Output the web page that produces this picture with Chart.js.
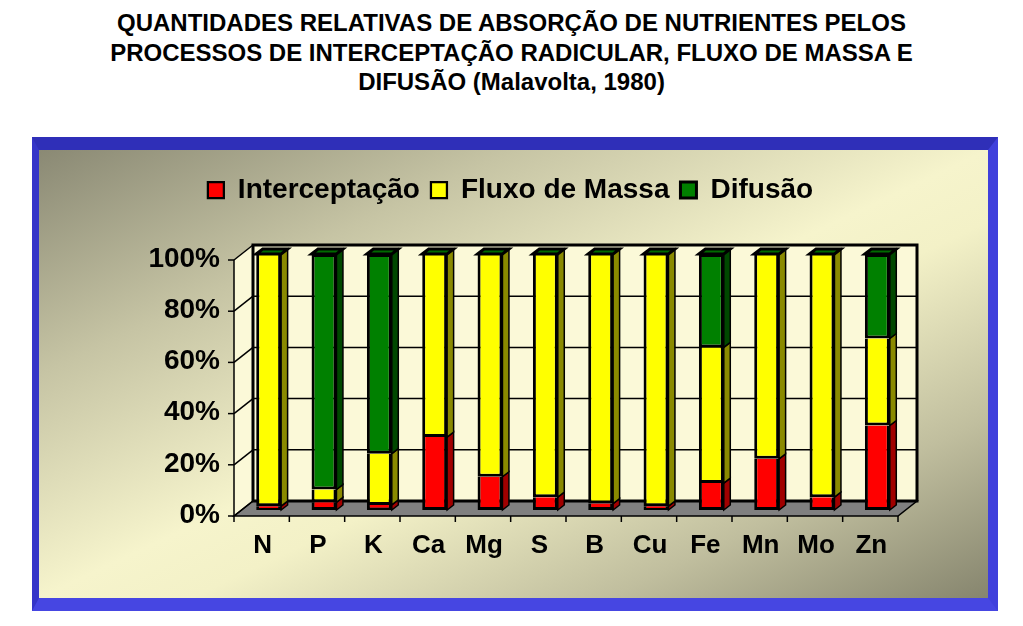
<!DOCTYPE html>
<html>
<head>
<meta charset="utf-8">
<script src="https://cdn.jsdelivr.net/npm/chart.js@4/dist/chart.umd.min.js"></script>
<style>
  body { margin: 0; background: #fff; width: 1023px; height: 626px; overflow: hidden; font-family: 'Liberation Sans', Arial, sans-serif; }
  #title { position: absolute; left: 0; top: 8px; width: 1023px; text-align: center; font-weight: bold; font-size: 24px; line-height: 29.5px; color: #000; }
  #box { position: absolute; left: 32px; top: 137px; width: 966px; height: 474px; box-sizing: border-box;
         border-style: solid; border-width: 13px 10px 13px 7px; border-color: #2f2fb8 #4040dc #4646e2 #3535c8;
         background: linear-gradient(to bottom right, #8a8974 0%, #c6c4a4 25%, #f6f4cc 50%, #f3f1c7 58%, #c0be9e 80%, #86856e 100%); }
  #chart { display: block; }
</style>
</head>
<body>
<div id="title">QUANTIDADES RELATIVAS DE ABSORÇÃO DE NUTRIENTES PELOS<br>PROCESSOS DE INTERCEPTAÇÃO RADICULAR, FLUXO DE MASSA E<br>DIFUSÃO (Malavolta, 1980)</div>
<div id="box"><canvas id="chart" width="949" height="448"></canvas></div>
<script>
const categories = ['N', 'P', 'K', 'Ca', 'Mg', 'S', 'B', 'Cu', 'Fe', 'Mn', 'Mo', 'Zn'];
const interceptacao = [1.5, 3, 2, 28.5, 13, 5, 2.5, 1.5, 10.5, 20, 5, 33];
const fluxoMassa = [98.5, 5, 20, 71.5, 87, 95, 97.5, 98.5, 53, 80, 95, 34];
const difusao = [0, 92, 78, 0, 0, 0, 0, 0, 36.5, 0, 0, 33];
const yTicks = [0, 20, 40, 60, 80, 100];

const FONT = "'Liberation Sans', Arial, sans-serif";
const FRONT = { x: -7, y: 6 };      // front plane (axis) relative to bar faces
const BACK = { x: 12, y: -9 };      // back wall relative to bar faces
const DEPTH = { x: 6.5, y: -5 };    // bar depth
const sideColors = ['#a00000', '#8a8a00', '#004800'];

function poly(ctx, pts, fill, stroke, lw) {
    ctx.beginPath();
    ctx.moveTo(pts[0][0], pts[0][1]);
    for (let i = 1; i < pts.length; i++) ctx.lineTo(pts[i][0], pts[i][1]);
    ctx.closePath();
    if (fill) { ctx.fillStyle = fill; ctx.fill(); }
    if (stroke) { ctx.strokeStyle = stroke; ctx.lineWidth = lw; ctx.stroke(); }
}

function line(ctx, x1, y1, x2, y2) {
    ctx.beginPath();
    ctx.moveTo(x1, y1);
    ctx.lineTo(x2, y2);
    ctx.stroke();
}

const chart3d = {
    id: 'chart3d',
    beforeInit(chart) {
        // extra room between legend and plot
        const fit = chart.legend.fit;
        chart.legend.fit = function () {
            fit.bind(chart.legend)();
            this.height += 40;
        };
    },
    beforeDatasetsDraw(chart) {
        const { ctx, chartArea: a, scales: { x, y } } = chart;
        const L = a.left, R = a.right, T = a.top, B = a.bottom;
        const wall = '#fbf9d8';
        ctx.save();
        // back wall + left wall
        ctx.fillStyle = wall;
        ctx.fillRect(L + BACK.x, T + BACK.y, R - L, B - T);
        poly(ctx, [[L + FRONT.x, T + FRONT.y], [L + BACK.x, T + BACK.y], [L + BACK.x, B + BACK.y], [L + FRONT.x, B + FRONT.y]], wall, null);
        // floor
        poly(ctx, [[L + FRONT.x, B + FRONT.y], [R + FRONT.x, B + FRONT.y], [R + BACK.x, B + BACK.y], [L + BACK.x, B + BACK.y]], '#808080', '#000', 1.5);
        // grid
        ctx.strokeStyle = '#000';
        ctx.lineWidth = 1.5;
        yTicks.forEach(v => {
            const py = y.getPixelForValue(v);
            line(ctx, L + FRONT.x, py + FRONT.y, L + BACK.x, py + BACK.y);
            if (v > 0 && v < 100) line(ctx, L + BACK.x, py + BACK.y, R + BACK.x, py + BACK.y);
            line(ctx, L + FRONT.x - 6, py + FRONT.y, L + FRONT.x, py + FRONT.y);
        });
        ctx.lineWidth = 3;
        ctx.strokeRect(L + BACK.x, T + BACK.y, R - L, B - T);
        // front axes
        ctx.lineWidth = 1.5;
        line(ctx, L + FRONT.x, T + FRONT.y, L + FRONT.x, B + FRONT.y);
        const step = x.getPixelForValue(1) - x.getPixelForValue(0);
        for (let i = 0; i <= categories.length; i++) {
            const px = x.getPixelForValue(i) - step / 2 + FRONT.x;
            line(ctx, px, B + FRONT.y, px, B + FRONT.y + 6);
        }
        ctx.restore();
    },
    afterDatasetsDraw(chart) {
        const ctx = chart.ctx;
        const last = chart.data.datasets.length - 1;
        ctx.save();
        chart.data.datasets.forEach((ds, di) => {
            chart.getDatasetMeta(di).data.forEach(bar => {
                const { x: bx, y: top, base, width } = bar.getProps(['x', 'y', 'base', 'width'], true);
                const xl = bx - width / 2, xr = bx + width / 2;
                if (base - top > 0.5) {
                    poly(ctx, [[xr, top], [xr + DEPTH.x, top + DEPTH.y], [xr + DEPTH.x, base + DEPTH.y], [xr, base]], sideColors[di], '#000', 1.5);
                }
                if (di === last) {
                    poly(ctx, [[xl, top], [xl + DEPTH.x, top + DEPTH.y], [xr + DEPTH.x, top + DEPTH.y], [xr, top]], '#006a00', '#000', 3);
                }
            });
        });
        ctx.restore();
    }
};

const midBorder = { left: 3, right: 3, top: 0, bottom: 3 };

new Chart(document.getElementById('chart'), {
    type: 'bar',
    data: {
        labels: categories,
        datasets: [
            { label: 'Interceptação', data: interceptacao, backgroundColor: '#ff0000', borderColor: '#000', borderWidth: midBorder, borderSkipped: false },
            { label: 'Fluxo de Massa', data: fluxoMassa, backgroundColor: '#ffff00', borderColor: '#000', borderWidth: midBorder, borderSkipped: false },
            { label: 'Difusão', data: difusao, backgroundColor: '#008000', borderColor: '#000', borderWidth: { left: 3, right: 3, top: 3, bottom: 3 }, borderSkipped: false }
        ]
    },
    options: {
        responsive: false,
        animation: false,
        events: [],
        layout: { padding: { left: 77, right: 83, top: 15, bottom: 8 } },
        datasets: { bar: { categoryPercentage: 1, barPercentage: 0.45 } },
        plugins: {
            legend: {
                labels: {
                    boxWidth: 16,
                    boxHeight: 16,
                    padding: 11,
                    color: '#000',
                    font: { family: FONT, size: 28, weight: 'bold' }
                }
            },
            tooltip: { enabled: false }
        },
        scales: {
            x: {
                stacked: true,
                grid: { display: false, drawTicks: false },
                border: { display: false },
                ticks: { color: '#000', padding: 20, labelOffset: -6, font: { family: FONT, size: 26, weight: 'bold' } },
                afterFit(scale) { scale.height = 80; }
            },
            y: {
                stacked: true,
                min: 0,
                max: 100,
                grid: { display: false, drawTicks: false },
                border: { display: false },
                ticks: {
                    stepSize: 20,
                    color: '#000',
                    padding: 21,
                    labelOffset: 5,
                    font: { family: FONT, size: 28, weight: 'bold' },
                    callback: v => v + '%'
                },
                afterFit(scale) { scale.width = 125; }
            }
        }
    },
    plugins: [chart3d]
});
</script>
</body>
</html>
